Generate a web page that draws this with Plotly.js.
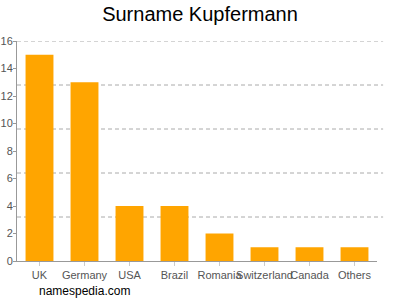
<!DOCTYPE html>
<html>
<head>
<meta charset="utf-8">
<script src="https://cdn.plot.ly/plotly-3.0.1.min.js"></script>
<style>html,body{margin:0;padding:0;background:#fff;}#chart{width:400px;height:300px;}</style>
</head>
<body>
<div id="chart"></div>
<script>
const countries = ["UK", "Germany", "USA", "Brazil", "Romania", "Switzerland", "Canada", "Others"];
const counts = [15, 13, 4, 4, 2, 1, 1, 1];
const yTicks = [0, 2, 4, 6, 8, 10, 12, 14, 16];
const gridTicks = [3.2, 6.4, 9.6, 12.8, 16];

const data = [
  {
    type: "bar",
    x: countries,
    y: counts,
    marker: {color: "#FFA500"},
    hoverinfo: "none"
  }
];

const gridShapes = gridTicks.map(v => ({
  type: "line",
  layer: "below",
  xref: "paper", yref: "y",
  x0: 0, x1: 1.017, y0: v, y1: v,
  line: {color: "#aaa", width: 1, dash: "4px,3px"}
}));

const layout = {
  width: 400,
  height: 300,
  margin: {l: 17, r: 23, t: 41, b: 39},
  paper_bgcolor: "#fff",
  plot_bgcolor: "rgba(0,0,0,0)",
  showlegend: false,
  bargap: 0.38,
  font: {family: "Liberation Sans, Arial, sans-serif", color: "#555", size: 11},
  title: {
    text: "Surname Kupfermann",
    font: {size: 20, color: "#000", family: "Liberation Sans, Arial, sans-serif"},
    x: 0.5, xanchor: "center", y: 0.952, yanchor: "middle"
  },
  xaxis: {
    showline: true,
    linecolor: "#999",
    linewidth: 1,
    ticks: "outside",
    ticklen: 4,
    tickcolor: "#ccc",
    tickangle: 0,
    tickfont: {size: 11, color: "#555"},
    showgrid: false,
    zeroline: false
  },
  yaxis: {
    range: [0, 16],
    tickvals: yTicks,
    showline: true,
    linecolor: "#999",
    ticks: "outside",
    ticklen: 3,
    tickcolor: "#999",
    ticklabelstandoff: -2,
    tickfont: {size: 11, color: "#555"},
    showgrid: false,
    zeroline: false
  },
  shapes: gridShapes,
  annotations: [
    {
      text: "namespedia.com",
      xref: "paper", yref: "paper",
      x: 0.055, y: -0.136,
      xanchor: "left", yanchor: "middle",
      showarrow: false,
      font: {size: 12, color: "#000"}
    }
  ]
};

Plotly.newPlot("chart", data, layout, {staticPlot: true, displayModeBar: false});
</script>
</body>
</html>
